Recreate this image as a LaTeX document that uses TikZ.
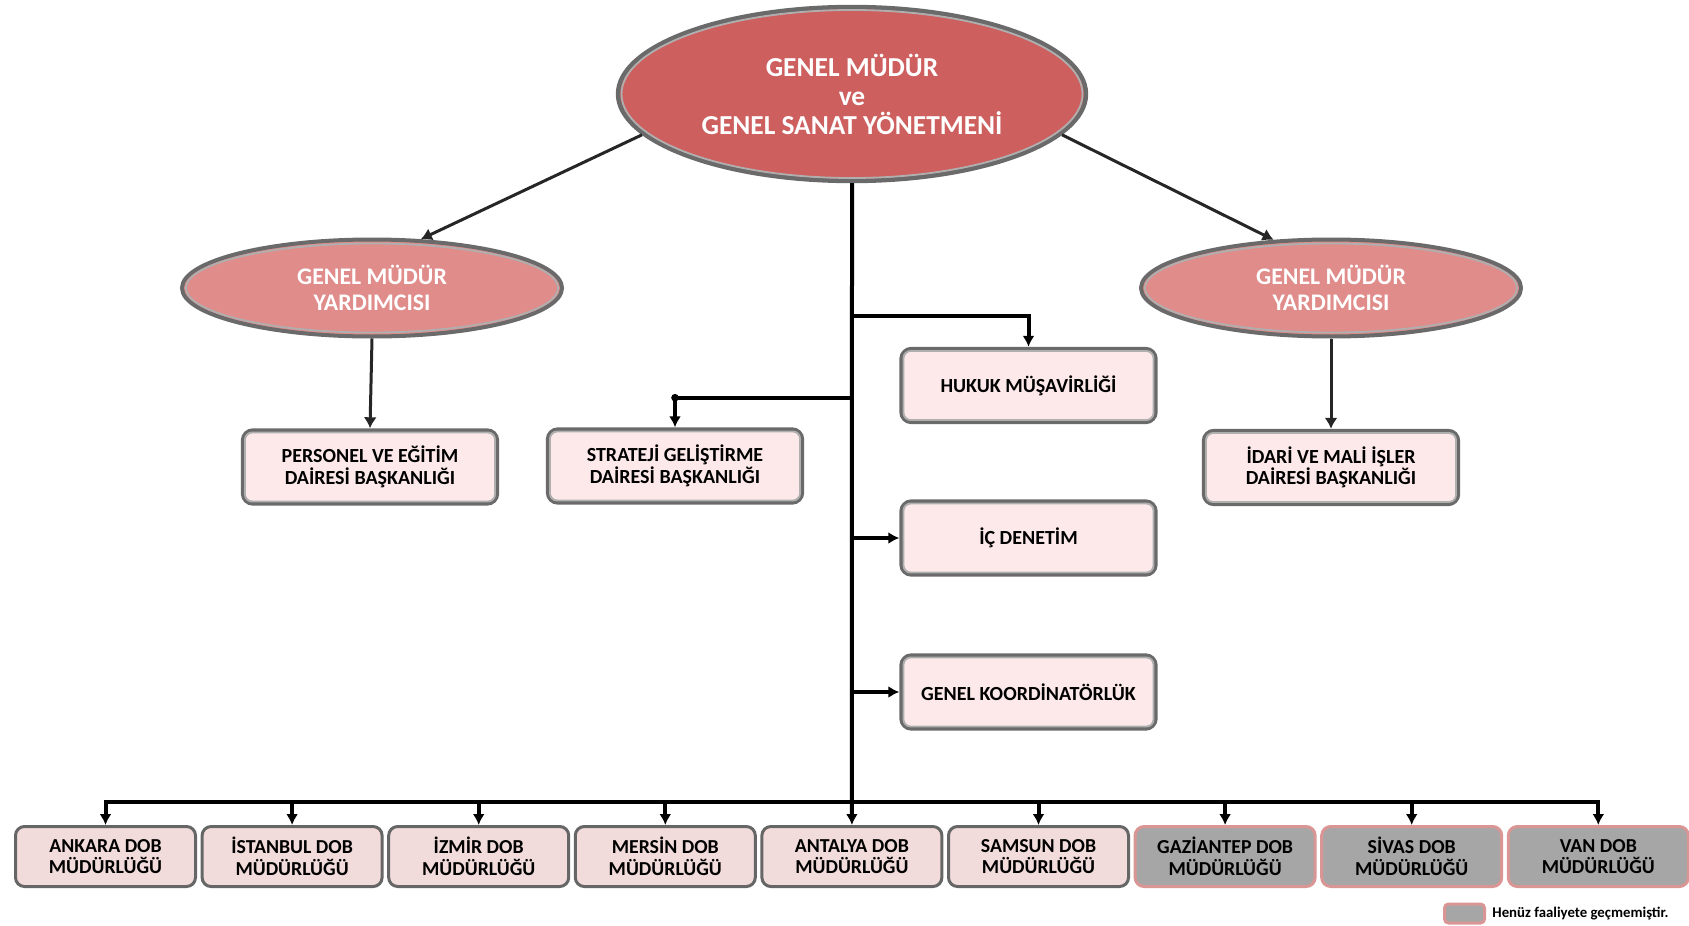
\documentclass[tikz,border=0pt]{standalone}
\usepackage{fontspec}
\setmainfont{Carlito}
\usetikzlibrary{shapes.geometric,arrows.meta}
\definecolor{topred}{HTML}{CD5F5E}
\definecolor{midred}{HTML}{DF8C8A}
\definecolor{boxpink}{HTML}{FDE9E9}
\definecolor{botpink}{HTML}{F2DCDB}
\definecolor{edgegray}{HTML}{6A6A6A}
\definecolor{bevel}{HTML}{AFAFAF}
\definecolor{botedge}{HTML}{666666}
\definecolor{inactive}{HTML}{A6A6A6}
\definecolor{inactedge}{HTML}{D99694}
\definecolor{arrowdark}{HTML}{262626}
\begin{document}
\begin{tikzpicture}[x=0.5pt,y=-0.5pt,
  topell/.style={ellipse, fill=topred, draw=edgegray, line width=2.2pt,
    minimum width=234pt, minimum height=87pt, inner sep=0pt, text=white,
    font=\bfseries\fontsize{13.7}{14.5}\selectfont, align=center},
  midell/.style={ellipse, fill=midred, draw=edgegray, line width=2pt,
    minimum width=190pt, minimum height=48.5pt, inner sep=0pt, text=white,
    font=\bfseries\fontsize{11.9}{12.9}\selectfont, align=center},
  upbox/.style={rectangle, rounded corners=5pt, fill=boxpink, draw=edgegray,
    line width=2.2pt, minimum width=127pt, minimum height=36.5pt, inner sep=0pt,
    font=\bfseries\fontsize{10}{10.8}\selectfont, align=center},
  bevelline/.style={draw=bevel, line width=0.9pt},
  botbox/.style={rectangle, rounded corners=4.5pt, fill=botpink, draw=botedge,
    line width=1.5pt, minimum width=90pt, minimum height=30pt, inner sep=0pt,
    font=\bfseries\fontsize{9.9}{10.8}\selectfont, align=center},
  offbox/.style={botbox, fill=inactive, draw=inactedge},
  trunk/.style={line width=2pt, draw=black},
  tarrow/.style={trunk, -{Latex[length=5.5pt,width=6pt]}},
  darrow/.style={line width=1.5pt, draw=arrowdark, -{Latex[length=5.5pt,width=6.5pt]}}
]
\useasboundingbox (0,0) rectangle (1689,925);

% top ellipse and deputies
\node[topell] (gm) at (852,94) {GENEL MÜDÜR\\ve\\GENEL SANAT YÖNETMENİ};
\node[midell] (gmyL) at (372,288) {GENEL MÜDÜR\\YARDIMCISI};
\node[midell] (gmyR) at (1331,288) {GENEL MÜDÜR\\YARDIMCISI};
\draw[bevelline] (gm.center) ellipse [x radius=230.5, y radius=84];
\foreach \e in {gmyL,gmyR}{
  \draw[bevelline] (\e.center) ellipse [x radius=186, y radius=44.5];
}

% upper boxes
\node[upbox] (pers)  at (370,467)    {PERSONEL VE EĞİTİM\\DAİRESİ BAŞKANLIĞI};
\node[upbox] (strat) at (675,466)    {STRATEJİ GELİŞTİRME\\DAİRESİ BAŞKANLIĞI};
\node[upbox] (hukuk) at (1028.5,385.5) {HUKUK MÜŞAVİRLİĞİ};
\node[upbox] (idari) at (1331,467.5) {İDARİ VE MALİ İŞLER\\DAİRESİ BAŞKANLIĞI};
\node[upbox] (ic)    at (1028.5,538) {İÇ DENETİM};
\node[upbox] (koord) at (1028.5,692) {GENEL KOORDİNATÖRLÜK};
\foreach \b in {pers,strat,hukuk,idari,ic,koord}{
  \draw[bevelline, rounded corners=3.5pt]
    ([shift={(4.2,4.2)}]\b.north west) rectangle ([shift={(-4.2,-4.2)}]\b.south east);
}

% bottom boxes
\foreach \k/\nm/\txt/\sty in {0/ankara/ANKARA DOB/botbox,1/istanbul/İSTANBUL DOB/botbox,
  2/izmir/İZMİR DOB/botbox,3/mersin/MERSİN DOB/botbox,4/antalya/ANTALYA DOB/botbox,
  5/samsun/SAMSUN DOB/botbox,6/gaziantep/GAZİANTEP DOB/offbox,7/sivas/SİVAS DOB/offbox,
  8/van/VAN DOB/offbox}{
  \node[\sty] (\nm) at ({105.5+186.6*\k},856.5) {\txt\\MÜDÜRLÜĞÜ};
}

% junction coordinates on the trunk
\coordinate (jH) at (852,316);
\coordinate (jS) at (852,397.7);
\coordinate (bus) at (852,802);

% trunk
\draw[tarrow] (gm.south) -- (antalya.north);
\draw[tarrow] (jH) -| (hukuk.north);
\draw[tarrow] (jS) -| (strat.north);
\fill (strat.north |- jS) circle (1.9pt);
\draw[tarrow] (ic.west -| jH) -- (ic.west);
\draw[tarrow] (koord.west -| jH) -- (koord.west);

% bus to regional offices
\draw[tarrow] (bus) -| (ankara.north);
\draw[tarrow] (bus) -| (van.north);
\foreach \nm in {istanbul,izmir,mersin,samsun,gaziantep,sivas}{
  \draw[tarrow] (\nm.north |- bus) -- (\nm.north);
}

% deputies
\draw[darrow] (gm.191) -- (gmyL.45);
\draw[darrow] (gm.-11) -- (gmyR.140);
\draw[darrow] (gmyL.south) -- (pers.north);
\draw[darrow] (gmyR.south) -- (idari.north);

% legend
\node[rectangle, rounded corners=2pt, fill=inactive, draw=inactedge, line width=1.5pt,
  minimum width=20pt, minimum height=9.5pt, inner sep=0pt] (leg) at (1464.5,913.5) {};
\node[anchor=west, inner sep=0pt, font=\bfseries\fontsize{7.4}{8}\selectfont]
  (legtxt) at ([xshift=3pt]leg.east) {Henüz faaliyete geçmemiştir.};
\end{tikzpicture}
\end{document}
